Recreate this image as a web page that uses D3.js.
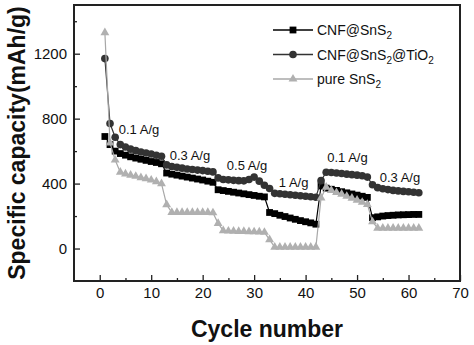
<!DOCTYPE html>
<html>
<head>
<meta charset="utf-8">
<script src="https://cdn.jsdelivr.net/npm/d3@7"></script>
<style>
  body { margin: 0; background: #fff; }
  text { font-family: Arial, "Liberation Sans", sans-serif; }
</style>
</head>
<body>
<div id="chart"></div>
<script>
var svgWidth = 474;
var svgHeight = 345;

var margin = { top: 5, right: 14, bottom: 64, left: 74 };
var width = svgWidth - margin.left - margin.right;
var height = svgHeight - margin.top - margin.bottom;

// cycle numbers 1..62
var cycles = d3.range(1, 63);

// CNF@SnS2 (squares)
var cnfSnS2 = [690, 640, 600, 585, 575, 565, 557, 550, 543, 536, 530, 522,
    465, 458, 452, 446, 440, 434, 428, 422, 415, 408,
    362, 357, 352, 347, 342, 337, 332, 327, 322, 318,
    222, 215, 205, 197, 188, 180, 172, 165, 158, 150,
    385, 372, 365, 358, 350, 343, 336, 329, 322, 315,
    190, 195, 200, 203, 205, 207, 208, 209, 210, 210];

// CNF@SnS2@TiO2 (circles)
var cnfSnS2TiO2 = [1170, 770, 685, 640, 625, 612, 603, 595, 588, 582, 575, 568,
    515, 505, 500, 495, 490, 487, 483, 480, 476, 472,
    435, 425, 423, 420, 418, 417, 425, 440, 415, 390,
    370, 340, 337, 334, 331, 328, 325, 322, 319, 316,
    418, 470, 468, 465, 462, 458, 455, 452, 448, 440,
    393, 375, 368, 363, 358, 355, 352, 350, 347, 344];

// pure SnS2 (triangles)
var pureSnS2 = [1330, 650, 545, 470, 460, 452, 445, 437, 430, 422, 412, 400,
    270, 222, 222, 222, 222, 222, 222, 222, 222, 220,
    155, 110, 108, 107, 106, 105, 104, 103, 102, 100,
    55, 8, 8, 8, 8, 8, 8, 8, 8, 8,
    312, 378, 358, 345, 335, 322, 310, 298, 285, 272,
    165, 125, 125, 125, 125, 125, 125, 125, 125, 125];

var xTicks = [0, 10, 20, 30, 40, 50, 60, 70];
var yTicks = [0, 400, 800, 1200];

// current density labels: [cycle, capacity, text]
var rateLabels = [
    [3.7, 708, "0.1 A/g"],
    [13.6, 548, "0.3 A/g"],
    [24.7, 481, "0.5 A/g"],
    [34.8, 382, "1 A/g"],
    [44.2, 530, "0.1 A/g"],
    [54.4, 407, "0.3 A/g"]
];

var series = [
    { name: ["CNF@SnS", "2"], values: cnfSnS2, shape: "square", color: "#000000", line: "#000000" },
    { name: ["CNF@SnS", "2", "@TiO", "2"], values: cnfSnS2TiO2, shape: "circle", color: "#333333", line: "#333333" },
    { name: ["pure SnS", "2"], values: pureSnS2, shape: "triangle", color: "#b0b0b0", line: "#a8a8a8" }
];

var svg = d3.select("#chart")
    .append("svg")
    .attr("width", svgWidth)
    .attr("height", svgHeight);

var chartGroup = svg.append("g")
    .attr("transform", `translate(${margin.left}, ${margin.top})`);

var xScale = d3.scaleLinear().domain([-5, 70]).range([0, width]);
var yScale = d3.scaleLinear().domain([-200, 1500]).range([height, 0]);

// minor ticks first, then major ticks with labels
chartGroup.append("g")
    .attr("transform", `translate(0, ${height})`)
    .call(d3.axisBottom(xScale).tickValues(d3.range(5, 70, 10)).tickSize(-3).tickFormat(""));
chartGroup.append("g")
    .call(d3.axisLeft(yScale).tickValues([200, 600, 1000, 1400]).tickSize(-3).tickFormat(""));

var xAxis = chartGroup.append("g")
    .attr("transform", `translate(0, ${height})`)
    .call(d3.axisBottom(xScale).tickValues(xTicks).tickSize(-6).tickPadding(6).tickFormat(d3.format("d")));
var yAxis = chartGroup.append("g")
    .call(d3.axisLeft(yScale).tickValues(yTicks).tickSize(-6).tickPadding(7).tickFormat(d3.format("d")));

chartGroup.selectAll(".domain").remove();
chartGroup.selectAll(".tick line").attr("stroke", "#222").attr("stroke-width", 1.3);
chartGroup.selectAll(".tick text")
    .attr("font-family", "Arial, 'Liberation Sans', sans-serif")
    .attr("font-size", 15)
    .attr("fill", "#111");

// plot frame
chartGroup.append("rect")
    .attr("width", width)
    .attr("height", height)
    .attr("fill", "none")
    .attr("stroke", "#222")
    .attr("stroke-width", 2);

function drawMarker(sel, shape, color) {
    if (shape === "square") {
        sel.append("rect")
            .attr("x", -3.4).attr("y", -3.4)
            .attr("width", 6.8).attr("height", 6.8)
            .attr("fill", color);
    } else if (shape === "circle") {
        sel.append("circle").attr("r", 3.8).attr("fill", color);
    } else {
        sel.append("path")
            .attr("d", d3.symbol().type(d3.symbolTriangle).size(34)())
            .attr("fill", color);
    }
}

var line = d3.line()
    .x(d => xScale(d[0]))
    .y(d => yScale(d[1]));

series.forEach(function(s) {
    var pts = cycles.map((c, i) => [c, s.values[i]]);
    chartGroup.append("path")
        .datum(pts)
        .attr("d", line)
        .attr("fill", "none")
        .attr("stroke", s.line)
        .attr("stroke-width", 1.2);
    chartGroup.selectAll(null)
        .data(pts)
        .enter()
        .append("g")
        .attr("transform", d => `translate(${xScale(d[0])}, ${yScale(d[1])})`)
        .each(function() { drawMarker(d3.select(this), s.shape, s.color); });
});

// current density annotations
chartGroup.selectAll(null)
    .data(rateLabels)
    .enter()
    .append("text")
    .attr("x", d => xScale(d[0]))
    .attr("y", d => yScale(d[1]))
    .attr("font-size", 13)
    .attr("fill", "#111")
    .text(d => d[2]);

// legend
var legend = svg.append("g").attr("transform", "translate(273, 30)");
series.forEach(function(s, i) {
    var row = legend.append("g").attr("transform", `translate(0, ${i * 24.5})`);
    row.append("line")
        .attr("x1", 0).attr("x2", 40)
        .attr("stroke", s.line).attr("stroke-width", 1.5);
    drawMarker(row.append("g").attr("transform", "translate(20, 0)"), s.shape, s.color);
    var t = row.append("text")
        .attr("x", 44).attr("y", 5)
        .attr("font-size", 14)
        .attr("fill", "#111");
    s.name.forEach(function(part, j) {
        var sub = j % 2 === 1;
        t.append("tspan")
            .attr("font-size", sub ? 10 : 14)
            .attr("dy", sub ? 4 : (j > 0 ? -4 : 0))
            .text(part);
    });
});

// axis titles
svg.append("text")
    .attr("x", margin.left + width / 2)
    .attr("y", 337)
    .attr("text-anchor", "middle")
    .attr("font-size", 23)
    .attr("font-weight", "bold")
    .attr("fill", "#111")
    .text("Cycle number");

svg.append("text")
    .attr("transform", `translate(25, ${margin.top + height / 2}) rotate(-90)`)
    .attr("text-anchor", "middle")
    .attr("font-size", 23)
    .attr("font-weight", "bold")
    .attr("fill", "#111")
    .text("Specific capacity(mAh/g)");
</script>
</body>
</html>
